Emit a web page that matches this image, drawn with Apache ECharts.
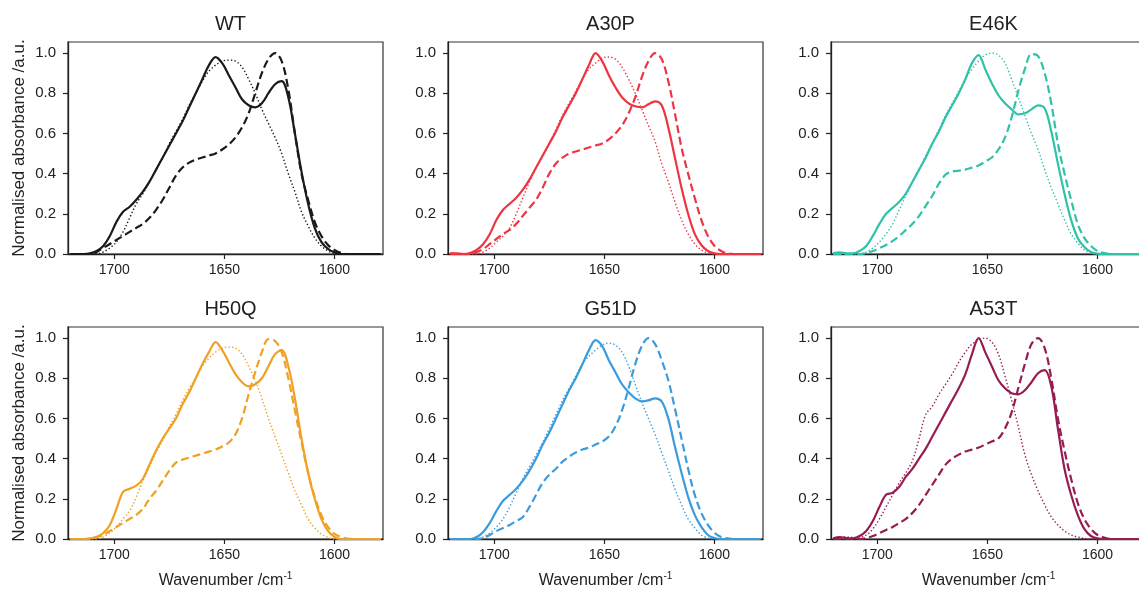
<!DOCTYPE html>
<html>
<head>
<meta charset="utf-8">
<script src="https://cdn.jsdelivr.net/npm/echarts@6/dist/echarts.min.js"></script>
<style>html,body{margin:0;padding:0;background:#fff;overflow:hidden;width:1139px;height:591px;}#c{width:1152px;height:591px;}</style>
</head>
<body>
<div id="c"></div>
<script>
// Wavenumber grid (cm-1), from 1720 down to 1579, step 3
const wavenumbers = [1720,1717,1714,1711,1708,1705,1702,1699,1696,1693,1690,1687,1684,1681,1678,1675,1672,1669,1666,1663,1660,1657,1654,1651,1648,1645,1642,1639,1636,1633,1630,1627,1624,1621,1618,1615,1612,1609,1606,1603,1600,1597,1594,1591,1588,1585,1582,1579];

const panelTitles = ["WT","A30P","E46K","H50Q","G51D","A53T"];
const panelColors = ["#1a1a1a","#ee3442","#2fc2a8","#f0a024","#3a9cdd","#961c53"];
const yTicks = [0,0.2,0.4,0.6,0.8,1.0];
const xTicks = [1700,1650,1600];
const yAxisTitle = "Normalised absorbance /a.u.";
const xAxisTitle = "Wavenumber /cm";
const xAxisTitleSup = "-1";

// WT
const wtSolid  = [0,0,0,0.003,0.015,0.04,0.09,0.16,0.21,0.235,0.27,0.31,0.36,0.42,0.48,0.54,0.6,0.66,0.73,0.8,0.87,0.94,0.98,0.95,0.89,0.83,0.77,0.74,0.73,0.75,0.8,0.845,0.86,0.78,0.6,0.41,0.25,0.13,0.06,0.025,0.008,0,0,0,0,0,0,0];
const wtDashed = [0,0,0,0,0.01,0.03,0.05,0.07,0.09,0.11,0.13,0.15,0.18,0.22,0.27,0.33,0.39,0.43,0.455,0.47,0.48,0.49,0.5,0.52,0.545,0.58,0.63,0.7,0.8,0.9,0.97,1.0,0.96,0.82,0.6,0.4,0.27,0.16,0.09,0.045,0.02,0.005,0,0,0,0,0,0];
const wtDotted = [0,0,0,0,0,0.01,0.03,0.06,0.11,0.18,0.25,0.3,0.36,0.42,0.48,0.55,0.61,0.67,0.74,0.8,0.86,0.91,0.94,0.96,0.965,0.96,0.93,0.87,0.8,0.72,0.65,0.58,0.5,0.4,0.31,0.21,0.14,0.08,0.04,0.015,0.003,0,0,0,0,0,0,0];
// A30P
const a30pSolid  = [0.005,0.003,0,0.005,0.02,0.05,0.1,0.17,0.22,0.25,0.28,0.32,0.37,0.43,0.49,0.55,0.61,0.68,0.74,0.8,0.87,0.94,1.0,0.96,0.89,0.83,0.78,0.75,0.735,0.73,0.745,0.76,0.74,0.63,0.48,0.33,0.2,0.1,0.045,0.015,0.003,0,0,0,0,0,0,0];
const a30pDashed = [0,0,0,0,0.01,0.025,0.05,0.075,0.1,0.12,0.15,0.19,0.23,0.27,0.33,0.4,0.45,0.48,0.5,0.51,0.52,0.53,0.54,0.55,0.57,0.6,0.64,0.7,0.78,0.88,0.96,1.0,0.97,0.86,0.7,0.53,0.4,0.28,0.17,0.09,0.04,0.015,0.003,0,0,0,0,0];
const a30pDotted = [0,0,0,0,0,0.01,0.03,0.06,0.09,0.13,0.2,0.28,0.36,0.43,0.49,0.55,0.62,0.69,0.75,0.81,0.87,0.92,0.95,0.975,0.98,0.97,0.93,0.87,0.8,0.72,0.64,0.56,0.45,0.36,0.26,0.17,0.1,0.05,0.02,0.005,0,0,0,0,0,0,0,0];
// E46K
const e46kSolid  = [0.005,0.008,0.003,0.003,0.015,0.04,0.09,0.15,0.2,0.23,0.26,0.3,0.36,0.42,0.48,0.55,0.61,0.68,0.74,0.8,0.87,0.95,0.99,0.92,0.85,0.79,0.75,0.72,0.695,0.7,0.72,0.74,0.725,0.61,0.45,0.3,0.17,0.08,0.035,0.01,0.002,0,0,0,0,0,0,0];
const e46kDashed = [0,0,0,0,0,0.005,0.015,0.03,0.045,0.065,0.09,0.12,0.15,0.19,0.24,0.29,0.35,0.395,0.41,0.415,0.42,0.43,0.44,0.46,0.48,0.52,0.58,0.68,0.81,0.92,0.995,0.985,0.9,0.75,0.55,0.4,0.27,0.15,0.08,0.04,0.015,0.005,0,0,0,0,0,0];
const e46kDotted = [0,0,0,0,0,0.01,0.03,0.06,0.1,0.15,0.22,0.29,0.36,0.42,0.49,0.55,0.62,0.69,0.75,0.81,0.87,0.92,0.96,0.99,1.0,0.99,0.95,0.87,0.78,0.69,0.6,0.52,0.42,0.33,0.25,0.17,0.1,0.055,0.02,0.005,0,0,0,0,0,0,0,0];
// H50Q
const h50qSolid  = [0,0,0,0.003,0.01,0.03,0.07,0.15,0.235,0.25,0.265,0.3,0.37,0.44,0.5,0.55,0.6,0.67,0.73,0.8,0.87,0.93,0.98,0.94,0.88,0.82,0.78,0.76,0.77,0.8,0.86,0.92,0.94,0.86,0.7,0.5,0.33,0.2,0.1,0.04,0.01,0,0,0,0,0,0,0];
const h50qDashed = [0,0,0,0,0.01,0.02,0.04,0.06,0.08,0.1,0.12,0.15,0.2,0.24,0.29,0.34,0.38,0.395,0.405,0.415,0.425,0.435,0.445,0.46,0.48,0.52,0.6,0.72,0.83,0.93,0.995,0.985,0.93,0.8,0.64,0.48,0.33,0.21,0.12,0.06,0.025,0.01,0.002,0,0,0,0,0];
const h50qDotted = [0,0,0,0,0,0.01,0.03,0.06,0.1,0.14,0.21,0.29,0.36,0.43,0.49,0.56,0.62,0.69,0.75,0.8,0.86,0.9,0.93,0.95,0.955,0.95,0.92,0.86,0.79,0.7,0.6,0.51,0.42,0.33,0.24,0.17,0.1,0.055,0.025,0.008,0,0,0,0,0,0,0,0];
// G51D
const g51dSolid  = [0,0,0,0,0.01,0.035,0.08,0.14,0.19,0.22,0.25,0.29,0.34,0.4,0.47,0.53,0.6,0.67,0.74,0.8,0.87,0.94,0.99,0.96,0.89,0.83,0.77,0.73,0.7,0.685,0.69,0.7,0.685,0.6,0.46,0.33,0.21,0.12,0.06,0.02,0.005,0,0,0,0,0,0,0];
const g51dDashed = [0,0,0,0,0,0.005,0.02,0.04,0.055,0.07,0.09,0.11,0.16,0.22,0.28,0.32,0.35,0.385,0.41,0.43,0.445,0.455,0.47,0.485,0.51,0.56,0.64,0.75,0.87,0.96,1.0,0.97,0.89,0.79,0.65,0.5,0.35,0.22,0.13,0.07,0.03,0.01,0.003,0,0,0,0,0];
const g51dDotted = [0,0,0,0,0,0.01,0.03,0.06,0.1,0.16,0.23,0.3,0.36,0.42,0.48,0.55,0.62,0.69,0.75,0.81,0.87,0.91,0.94,0.965,0.975,0.965,0.93,0.86,0.77,0.68,0.6,0.52,0.43,0.34,0.25,0.17,0.1,0.055,0.02,0.005,0,0,0,0,0,0,0,0];
// A53T
const a53tSolid  = [0.003,0.01,0.005,0.003,0.015,0.04,0.09,0.16,0.22,0.23,0.26,0.31,0.35,0.4,0.45,0.51,0.57,0.63,0.69,0.75,0.82,0.92,1.0,0.93,0.86,0.79,0.75,0.725,0.72,0.74,0.78,0.825,0.84,0.76,0.55,0.35,0.22,0.12,0.05,0.015,0.003,0,0,0,0,0,0,0];
const a53tDashed = [0,0,0,0,0,0.005,0.015,0.03,0.045,0.06,0.08,0.1,0.13,0.17,0.22,0.27,0.32,0.37,0.4,0.42,0.435,0.445,0.455,0.47,0.485,0.5,0.55,0.63,0.75,0.87,0.97,1.0,0.95,0.8,0.6,0.44,0.3,0.18,0.1,0.05,0.02,0.007,0,0,0,0,0,0];
const a53tDotted = [0,0.005,0.01,0.008,0.01,0.02,0.05,0.1,0.16,0.22,0.28,0.33,0.39,0.5,0.62,0.66,0.72,0.77,0.82,0.88,0.93,0.97,0.99,1.0,0.98,0.92,0.81,0.69,0.56,0.42,0.32,0.24,0.17,0.11,0.07,0.04,0.02,0.01,0.003,0,0,0,0,0,0,0,0,0];

const panelData = [
  [wtSolid, wtDashed, wtDotted],
  [a30pSolid, a30pDashed, a30pDotted],
  [e46kSolid, e46kDashed, e46kDotted],
  [h50qSolid, h50qDashed, h50qDotted],
  [g51dSolid, g51dDashed, g51dDotted],
  [a53tSolid, a53tDashed, a53tDotted]
];

const FONT = "'Liberation Sans', Arial, Helvetica, sans-serif";
const colLeft = [68, 448, 831];
const rowTop = [42, 327];
const gridW = 315, gridH = 212;

const grids = [], xAxes = [], yAxes = [], series = [], titles = [];
panelTitles.forEach((name, i) => {
  const r = Math.floor(i / 3), c = i % 3;
  grids.push({left: colLeft[c], top: rowTop[r], width: gridW, height: gridH,
    show: true, borderColor: '#333', borderWidth: 1.2, backgroundColor: 'transparent'});
  titles.push({text: name, left: colLeft[c] + gridW / 2, top: rowTop[r] - 33, textAlign: 'center',
    textStyle: {fontFamily: FONT, fontSize: 20, fontWeight: 'normal', color: '#222'}});
  xAxes.push({type: 'value', gridIndex: i, inverse: true, min: 1578, max: 1721,
    axisLine: {show: true, onZero: false, lineStyle: {color: '#222', width: 1.3}},
    axisTick: {show: true, length: 5, customValues: xTicks, lineStyle: {color: '#222', width: 1.2}},
    axisLabel: {customValues: xTicks, margin: 9, fontFamily: FONT, fontSize: 14, color: '#222',
      formatter: v => String(v)},
    splitLine: {show: false},
    name: r === 1 ? '{a|' + xAxisTitle + '}{s|' + xAxisTitleSup + '}' : '',
    nameLocation: 'middle', nameGap: 32,
    nameTextStyle: {rich: {
      a: {fontFamily: FONT, fontSize: 16, color: '#222'},
      s: {fontFamily: FONT, fontSize: 10, color: '#222', padding: [0, 0, 9, 0]}
    }}
  });
  yAxes.push({type: 'value', gridIndex: i, min: 0, max: 1.055,
    axisLine: {show: true, lineStyle: {color: '#222', width: 1.3}},
    axisTick: {show: true, length: 5, customValues: yTicks, lineStyle: {color: '#222', width: 1.2}},
    axisLabel: {customValues: yTicks, margin: 12, fontFamily: FONT, fontSize: 15, color: '#222',
      formatter: v => v.toFixed(1)},
    splitLine: {show: false},
    name: c === 0 ? yAxisTitle : '', nameLocation: 'middle', nameGap: 40, nameRotate: 90,
    nameTextStyle: {fontFamily: FONT, fontSize: 17, color: '#222'}
  });
  const styles = [
    {type: 'solid', width: 2.2},
    {type: [8, 4], width: 2.2},
    {type: [1.4, 2.2], width: 1.4}
  ];
  panelData[i].forEach((vals, k) => {
    series.push({type: 'line', xAxisIndex: i, yAxisIndex: i, showSymbol: false, smooth: 0.35,
      clip: true, silent: true, animation: false,
      lineStyle: Object.assign({color: panelColors[i]}, styles[k]),
      data: wavenumbers.map((w, j) => [w, vals[j]])});
  });
});

const chart = echarts.init(document.getElementById('c'), null, {renderer: 'canvas'});
chart.setOption({backgroundColor: '#fff', animation: false, title: titles,
  grid: grids, xAxis: xAxes, yAxis: yAxes, series: series});
</script>
</body>
</html>
